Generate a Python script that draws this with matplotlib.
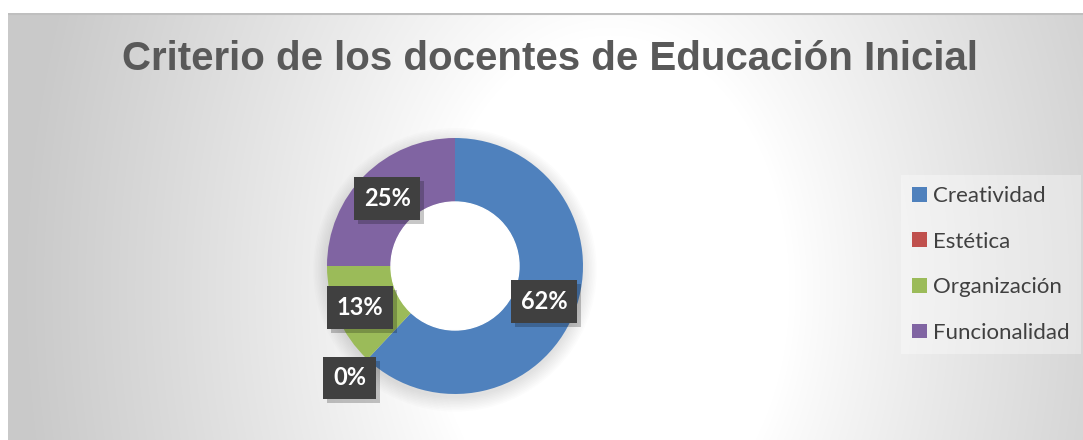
import numpy as np
import matplotlib
matplotlib.use("Agg")
import matplotlib.pyplot as plt
from matplotlib.patches import Patch, Rectangle

# data
categories = ["Creatividad", "Estética", "Organización", "Funcionalidad"]
values = [62, 0, 13, 25]
labels = ["62%", "0%", "13%", "25%"]
colors = ["#4F81BD", "#C0504D", "#9BBB59", "#8064A2"]
label_radius = [0.75, 1.2, 0.81, 0.75]

W, H = 1083, 440
fig = plt.figure(figsize=(W / 100, H / 100), dpi=100)
fig.patch.set_facecolor("white")

# chart area background (radial gradient)
x0, y0 = 8, 13
bg = fig.add_axes([x0 / W, 0, 1 - x0 / W, (H - y0) / H])
bg.set_axis_off()
yy, xx = np.mgrid[y0:H, x0:W]
d = np.sqrt(((xx - 610) / 240.0) ** 2 + ((yy - 290) / 340.0) ** 2)
g = 1 - 0.21 * np.clip((d - 0.75) / 1.7, 0, 1) ** 0.9
bg.imshow(np.dstack([g, g, g]), aspect="auto", extent=[0, 1, 0, 1], origin="upper")
bg.set_xlim(0, 1)
bg.set_ylim(0, 1)
bg.plot([0, 1], [0.997, 0.997], color="#bfbfbf", lw=1.5, transform=bg.transAxes)

fig.text(550 / W, 1 - 59 / H, "Criterio de los docentes de Educación Inicial",
         ha="center", va="center", fontsize=29, fontweight="bold",
         color="#595959", family="Liberation Sans")

# donut
cx, cy, R = 455, 266, 130
half = 160
ax = fig.add_axes([(cx - half) / W, (H - cy - half) / H, 2 * half / W, 2 * half / H])
ax.set_axis_off()
lim = half / R
ax.set_xlim(-lim, lim)
ax.set_ylim(-lim, lim)
ax.set_aspect("equal")

# soft shadow under the ring
for i in range(10):
    ax.add_patch(plt.Circle((0.0, -0.03), 1.0 + 0.012 * i, color="black",
                            alpha=0.012, lw=0, zorder=0))

wedges, _ = ax.pie(values, colors=colors, startangle=90, counterclock=False,
                   radius=1.0, wedgeprops=dict(width=0.5, edgecolor="none"))
ax.add_patch(plt.Circle((0, 0), 0.5, color="white", zorder=3))

start = 90.0
total = sum(values)
texts = []
for v, lab, r in zip(values, labels, label_radius):
    span = 360.0 * v / total
    mid = np.deg2rad(start - span / 2)
    start -= span
    t = ax.text(r * np.cos(mid), r * np.sin(mid), lab, ha="center", va="center",
                fontsize=17, fontweight="bold", family="Lato", color="white",
                bbox=dict(boxstyle="square,pad=0.42", fc="#404040", ec="none"),
                zorder=6)
    texts.append(t)

# drop shadows behind the label boxes
fig.canvas.draw()
for t in texts:
    bb = t.get_bbox_patch().get_window_extent()
    ax.add_artist(Rectangle((bb.x0 + 4, bb.y0 - 4), bb.width, bb.height,
                            transform=None, fc="black", ec="none", alpha=0.22,
                            zorder=4, clip_on=False))

handles = [Patch(facecolor=c, edgecolor="none") for c in colors]
leg = fig.legend(handles, categories, loc="upper left",
                 bbox_to_anchor=(901 / W, 1 - 175 / H), frameon=True,
                 prop=dict(family="Lato", size=16), labelcolor="#404040",
                 handlelength=0.65, handleheight=0.65, handletextpad=0.3,
                 labelspacing=1.15, borderpad=0.5, borderaxespad=0)
leg.get_frame().set_facecolor("white")
leg.get_frame().set_alpha(0.35)
leg.get_frame().set_edgecolor("none")
leg.get_frame().set_boxstyle("square,pad=0")

fig.savefig("out.png", dpi=100)
